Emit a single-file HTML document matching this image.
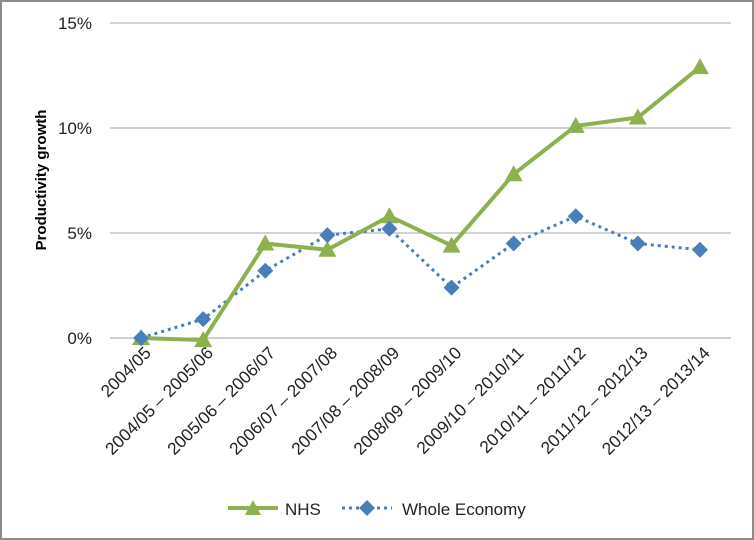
<!DOCTYPE html>
<html><head><meta charset="utf-8"><style>
body{margin:0;background:#fff}
svg{display:block;font-family:"Liberation Sans",Arial,sans-serif}
</style></head><body>
<svg width="754" height="540">
<rect x="1" y="1" width="752" height="538" fill="#fff" stroke="#8c8c8c" stroke-width="2"/>
<g id="grid"></g><g id="series"></g><g id="xlabels"></g>
<text transform="translate(46,180) rotate(-90)" text-anchor="middle" font-size="15" font-weight="bold" fill="#000">Productivity growth</text>
<g>
<g>
<line x1="228" y1="508" x2="278" y2="508" stroke="#8db14f" stroke-width="4"/>
<polygon points="253,500 261,515 245,515" fill="#8db14f"/>
<text x="285" y="515" font-size="17" fill="#222">NHS</text></g>
<g>
<line x1="342" y1="508" x2="392" y2="508" stroke="#4a7ebb" stroke-width="3" stroke-dasharray="3,4"/>
<polygon points="367,500 375,508 367,516 359,508" fill="#4a7ebb"/>
<text x="402" y="515" font-size="17" fill="#222">Whole Economy</text></g>
</g>
</svg>
<script>
const categories=["2004/05","2004/05 – 2005/06","2005/06 – 2006/07","2006/07 – 2007/08","2007/08 – 2008/09","2008/09 – 2009/10","2009/10 – 2010/11","2010/11 – 2011/12","2011/12 – 2012/13","2012/13 – 2013/14"];
const nhsValues=[0,-0.1,4.5,4.2,5.8,4.4,7.8,10.1,10.5,12.9];
const wholeEconomyValues=[0,0.9,3.2,4.9,5.2,2.4,4.5,5.8,4.5,4.2];
const yTicks=[0,5,10,15];
const yTickLabels=["0%","5%","10%","15%"];
const NS="http://www.w3.org/2000/svg";
const L=110,R=731,T=23,B=338;
const step=(R-L)/categories.length;
function x(i){return L+step*(i+0.5);}
function y(v){return B-(v/15)*(B-T);}
function mk(t,a,p){const e=document.createElementNS(NS,t);for(const k in a)e.setAttribute(k,a[k]);p.appendChild(e);return e;}
const grid=document.getElementById('grid');
yTicks.forEach((t,i)=>{
 const ln=mk('line',{x1:L,x2:R,y1:y(t),y2:y(t),stroke:t===0?'#a0a0a0':'#a6a6a6','stroke-width':1},grid);
 
 
 const tx=mk('text',{x:92,y:y(t)+6,'text-anchor':'end','font-size':17,fill:'#222'},grid);
 tx.textContent=yTickLabels[i];
 
 
});
const xl=document.getElementById('xlabels');
categories.forEach((c,i)=>{
 const tx=mk('text',{transform:`translate(${x(i)+11},${B+16}) rotate(-45)`,'text-anchor':'end','font-size':17.3,fill:'#222'},xl);
 tx.textContent=c;
 
 
});
const s=document.getElementById('series');
const wp=wholeEconomyValues.map((v,i)=>x(i)+','+y(v)).join(' ');
const wl=mk('polyline',{points:wp,fill:'none',stroke:'#4a7ebb','stroke-width':3,'stroke-dasharray':'3,4'},s);


const np=nhsValues.map((v,i)=>x(i)+','+y(v)).join(' ');
const nl=mk('polyline',{points:np,fill:'none',stroke:'#8db14f','stroke-width':4},s);


nhsValues.forEach((v,i)=>{
 const cx=x(i),cy=y(v);
 const p=mk('polygon',{points:`${cx},${cy-9} ${cx+9},${cy+7} ${cx-9},${cy+7}`,fill:'#8db14f'},s);
 
 
});
wholeEconomyValues.forEach((v,i)=>{
 const cx=x(i),cy=y(v);
 const p=mk('polygon',{points:`${cx},${cy-8} ${cx+8},${cy} ${cx},${cy+8} ${cx-8},${cy}`,fill:'#4a7ebb'},s);
 
 
});
</script>
</body></html>
